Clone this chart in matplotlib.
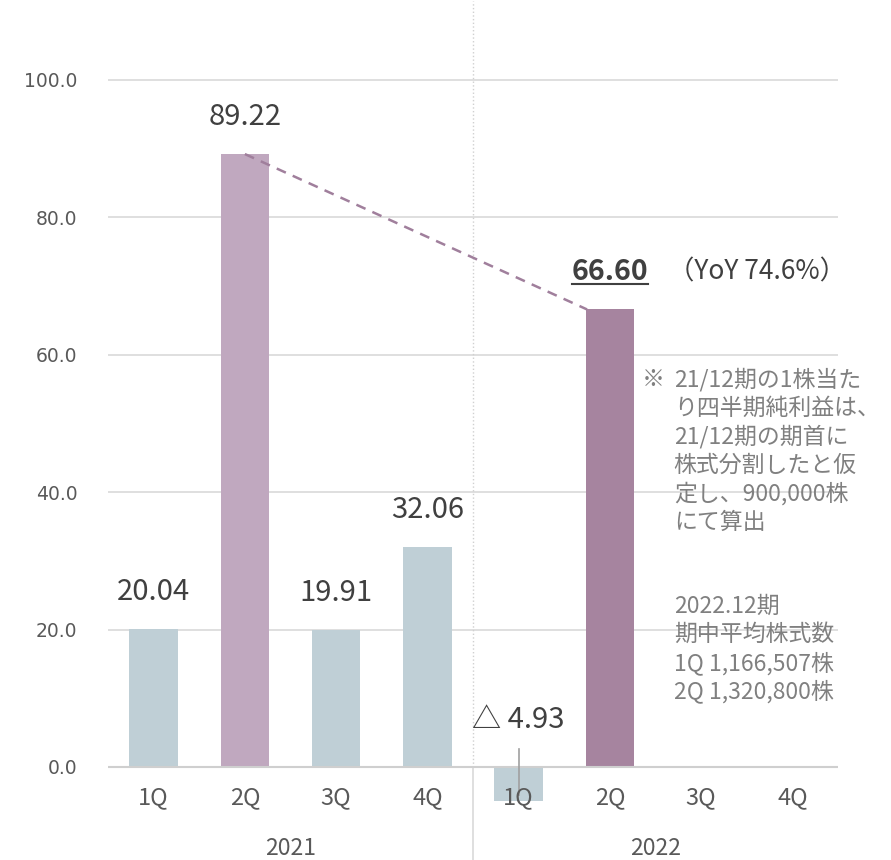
import matplotlib
matplotlib.use("Agg")
import matplotlib.pyplot as plt

plt.rcParams['font.family'] = ['Noto Sans CJK JP', 'DejaVu Sans']

quarters = ['1Q', '2Q', '3Q', '4Q', '1Q', '2Q', '3Q', '4Q']
years = ['2021', '2022']
values = [20.04, 89.22, 19.91, 32.06, -4.93, 66.60, None, None]
bar_colors = ['#bfcfd6', '#c0a8bf', '#bfcfd6', '#bfcfd6',
              '#bfcfd6', '#a6849f', '#bfcfd6', '#bfcfd6']
yoy_text = '（YoY 74.6%）'
note1 = ['21/12期の1株当た', 'り四半期純利益は、', '21/12期の期首に',
         '株式分割したと仮', '定し、900,000株', 'にて算出']
note2 = ['2022.12期', '期中平均株式数', '1Q 1,166,507株', '2Q 1,320,800株']

fig = plt.figure(figsize=(8.91, 8.6), dpi=100)
ax = fig.add_axes([108 / 891, 0.0003, 730 / 891, 858.75 / 860])
ax.set_xlim(-0.5, 7.5)
ax.set_ylim(-13.5, 111.5)
for s in ax.spines.values():
    s.set_visible(False)

# grid
ax.set_yticks([0, 20, 40, 60, 80, 100])
ax.set_yticklabels(['%.1f' % t for t in [0, 20, 40, 60, 80, 100]],
                   fontsize=13.5, color='#595959', family='DejaVu Sans')
ax.tick_params(axis='y', length=0, pad=22)
ax.set_xticks([])
for t in [20, 40, 60, 80, 100]:
    ax.axhline(t, color='#d9d9d9', lw=1.2, zorder=0)
ax.axhline(0, color='#cfcfcf', lw=1.5, zorder=3)

# bars
xs = [i for i, v in enumerate(values) if v is not None]
vs = [v for v in values if v is not None]
ax.bar(xs, vs, width=0.53, color=[bar_colors[i] for i in xs], zorder=2)

# separator between years
ax.plot([3.5, 3.5], [0, 111.5], color='#d0d0d0', lw=1, ls=':', zorder=1)
ax.plot([3.5, 3.5], [0, -13.5], color='#d9d9d9', lw=1.2, zorder=1)

# value labels
for i, v in enumerate(values):
    if v is None or i == 5:
        continue
    if v < 0:
        ax.text(i, 6.8, '△ %.2f' % abs(v), ha='center', va='center',
                fontsize=21, color='#404040')
        ax.plot([i, i], [2.6, -4.1], color='#a0a0a0', lw=1.2, zorder=4)
    else:
        ax.text(i, v + 5.4, '%.2f' % v, ha='center', va='center',
                fontsize=21, color='#404040')

big = ax.text(5, values[5] + 5.4, '%.2f' % values[5], ha='center', va='center',
              fontsize=20.5, fontweight='bold', color='#404040')
ax.text(5.64, values[5] + 5.4, yoy_text, ha='left', va='center',
        fontsize=19, color='#404040', clip_on=False)

fig.canvas.draw()
bb = big.get_window_extent().transformed(ax.transData.inverted())
ax.plot([bb.x0, bb.x1], [bb.y0 + 0.3, bb.y0 + 0.3], color='#404040', lw=1.5)

# dashed trend line
ax.plot([1, 4.75], [values[1], values[5]], color='#a07f9c', lw=1.8,
        ls=(0, (4, 3)), zorder=3)

# category labels
for i, q in enumerate(quarters):
    ax.text(i, -4.5, q, ha='center', va='center', fontsize=17, color='#595959',
            zorder=5)
ax.text(1.5, -11.8, years[0], ha='center', va='center', fontsize=16.5, color='#595959')
ax.text(5.5, -11.8, years[1], ha='center', va='center', fontsize=16.5, color='#595959')

# notes
step = 28.5 / 6.87
y0 = (767 - 380) / 6.87
ax.text(5.35, y0, '※', ha='left', va='center', fontsize=16.5, color='#808080',
        clip_on=False)
for k, line in enumerate(note1):
    ax.text(5.7, y0 - k * step, line, ha='left', va='center', fontsize=16.5,
            color='#808080', clip_on=False)
y1 = (767 - 606) / 6.87
for k, line in enumerate(note2):
    ax.text(5.7, y1 - k * step, line, ha='left', va='center', fontsize=16.5,
            color='#808080', clip_on=False)

fig.savefig('out.png', dpi=100)
